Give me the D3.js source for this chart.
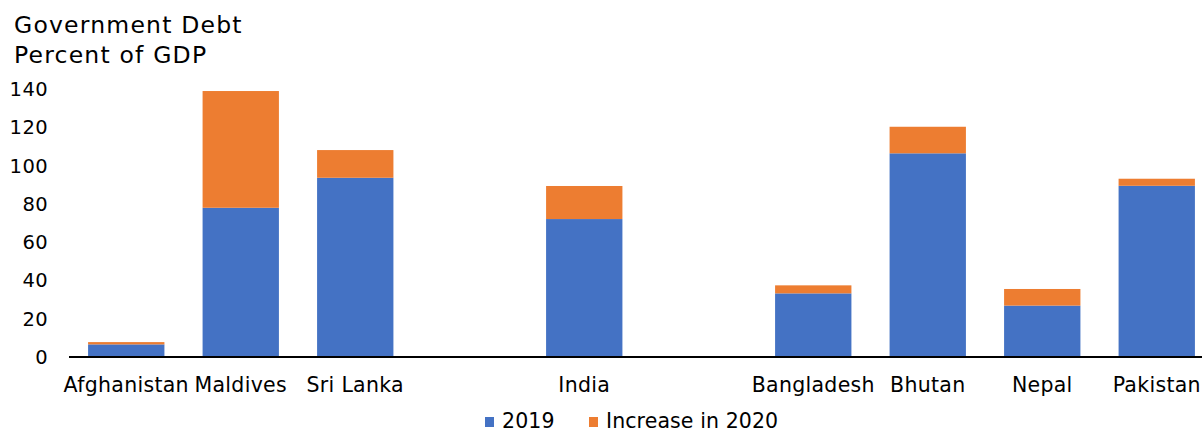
<!DOCTYPE html>
<html>
<head>
<meta charset="utf-8">
<script src="https://cdn.jsdelivr.net/npm/d3@7"></script>
<style>
  html, body { margin: 0; padding: 0; background: #fff; }
  svg { display: block; font-family: "DejaVu Sans", Verdana, sans-serif; }
</style>
</head>
<body>
<svg id="chart" width="1202" height="432"></svg>
<script>
const categories = ["Afghanistan", "Maldives", "Sri Lanka", "", "India", " ", "Bangladesh", "Bhutan", "Nepal", "Pakistan"];
const debt2019 = [6.6, 78.1, 93.8, null, 72.2, null, 33.3, 106.6, 26.9, 89.6];
const increase2020 = [1.2, 61.1, 14.5, null, 17.3, null, 4.2, 13.9, 8.7, 3.7];
const yTicks = [0, 20, 40, 60, 80, 100, 120, 140];
const seriesNames = ["2019", "Increase in 2020"];
const colors = ["#4472C4", "#ED7D31"];
const titleLines = ["Government Debt", "Percent of GDP"];

const svg = d3.select("#chart");
const x = d3.scaleBand().domain(categories).range([69, 1214]).paddingInner(1/3).paddingOuter(1/6);
const y = d3.scaleLinear().domain([0, 140]).range([357, 89.5]);

const rows = categories.map((c, i) => ({cat: c, a: debt2019[i], b: increase2020[i]})).filter(d => d.a != null);
const stack = d3.stack().keys(["a", "b"])(rows);

svg.append("g").selectAll("g").data(stack).join("g")
  .attr("fill", (d, i) => colors[i])
  .selectAll("rect").data(d => d).join("rect")
  .attr("x", d => x(d.data.cat))
  .attr("width", x.bandwidth())
  .attr("y", d => y(d[1]))
  .attr("height", d => y(d[0]) - y(d[1]));

// y axis labels
const yAxis = svg.append("g").attr("transform", "translate(48,0)")
  .call(d3.axisLeft(y).tickValues(yTicks).tickSize(0).tickPadding(0));
yAxis.select(".domain").remove();
yAxis.selectAll("text").attr("font-size", 19.5).attr("letter-spacing", 0.4)
  .attr("font-family", "DejaVu Sans, Verdana, sans-serif").attr("fill", "#000");

// x axis
const xAxis = svg.append("g").attr("transform", "translate(0,357)")
  .call(d3.axisBottom(x).tickSize(0));
xAxis.select(".domain").attr("d", "M69,0H1202").attr("stroke", "#000").attr("stroke-width", 2);
xAxis.selectAll("text").attr("y", 35).attr("dy", 0)
  .attr("font-size", 20.5).attr("letter-spacing", 0.3)
  .attr("font-family", "DejaVu Sans, Verdana, sans-serif").attr("fill", "#000");

// title
svg.append("g").selectAll("text").data(titleLines).join("text")
  .attr("x", 14).attr("y", (d, i) => 32.5 + i * 30.5)
  .attr("font-size", 23.5).attr("letter-spacing", 1.2).attr("fill", "#000").text(d => d);

// legend
const legendX = [485, 589];
const lg = svg.append("g").selectAll("g").data(seriesNames).join("g")
  .attr("transform", (d, i) => `translate(${legendX[i]},417)`);
lg.append("rect").attr("width", 9).attr("height", 10).attr("fill", (d, i) => colors[i]);
lg.append("text").attr("x", 17).attr("y", 11).attr("font-size", 20.5).attr("letter-spacing", 0.1)
  .attr("fill", "#000").text(d => d);
</script>
</body>
</html>
